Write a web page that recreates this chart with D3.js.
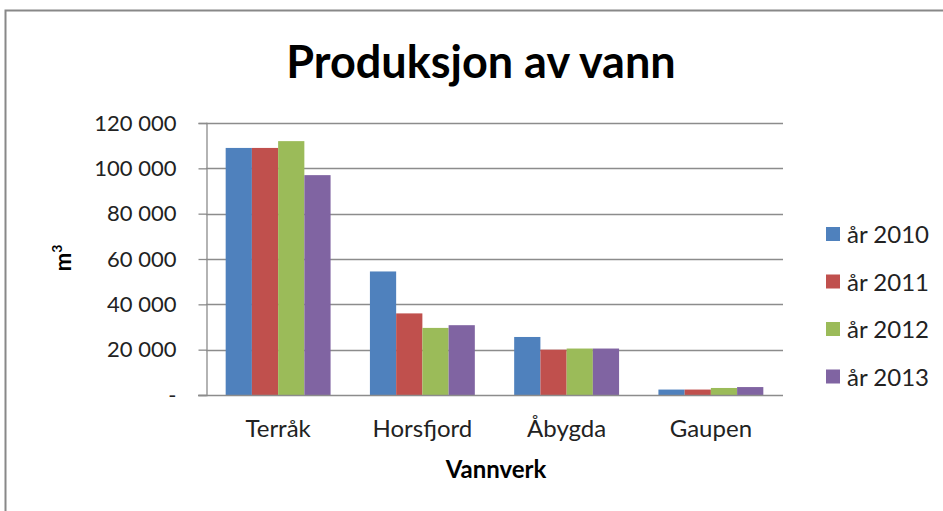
<!DOCTYPE html>
<html>
<head>
<meta charset="utf-8">
<script src="https://cdn.jsdelivr.net/npm/d3@7"></script>
<style>
  body { margin: 0; background: #fff; }
  text { font-family: Lato, "Liberation Sans", sans-serif; fill: #222; }
</style>
</head>
<body>
<script>
//Width and height
var w = 943;
var h = 511;

//Data
var categories = ["Terråk", "Horsfjord", "Åbygda", "Gaupen"];
var seriesNames = ["år 2010", "år 2011", "år 2012", "år 2013"];
var v2010 = [109000, 54500, 25600, 2400];
var v2011 = [109000, 36000, 20000, 2400];
var v2012 = [112000, 29600, 20500, 3100];
var v2013 = [97000, 30800, 20500, 3500];
var yTicks = [0, 20000, 40000, 60000, 80000, 100000, 120000];
var colors = ["#4f81bd", "#c0504d", "#9bbb59", "#8064a2"];

var series = [v2010, v2011, v2012, v2013];

//Plot area
var plotLeft = 206, plotRight = 783, plotTop = 123, plotBottom = 395;

var svg = d3.select("body").append("svg")
    .attr("width", w)
    .attr("height", h);

//Chart frame
svg.append("rect")
    .attr("x", 5.5).attr("y", 10.5)
    .attr("width", 1000).attr("height", 600)
    .attr("fill", "none")
    .attr("stroke", "#888")
    .attr("stroke-width", 2);

var x0 = d3.scaleBand().domain(categories).range([plotLeft, plotRight]);
//Excel gap width 150%: 4 bars + 1.5 bar width gap
var x1 = d3.scaleBand().domain(d3.range(4))
    .range([0, x0.bandwidth() * 4 / 5.5]);
var y = d3.scaleLinear().domain([0, 120000]).range([plotBottom, plotTop]);

var fmt = function(d) {
    return d === 0 ? "-" : d3.format(",")(d).replace(/,/g, " ");
};

//Gridlines
svg.append("g").selectAll("line")
    .data(yTicks.slice(1))
    .enter().append("line")
    .attr("x1", plotLeft).attr("x2", plotRight)
    .attr("y1", function(d) { return Math.round(y(d)) + 0.5; })
    .attr("y2", function(d) { return Math.round(y(d)) + 0.5; })
    .attr("stroke", "#8c8c8c")
    .attr("stroke-width", 1.3);

//Bars
var groups = svg.append("g").selectAll("g")
    .data(categories)
    .enter().append("g")
    .attr("transform", function(d) {
        return "translate(" + (x0(d) + x0.bandwidth() * 0.75 / 5.5) + ",0)";
    });

groups.selectAll("rect")
    .data(function(d, i) { return series.map(function(s, k) { return {k: k, v: s[i]}; }); })
    .enter().append("rect")
    .attr("x", function(d) { return x1(d.k); })
    .attr("width", x1.bandwidth())
    .attr("y", function(d) { return y(d.v); })
    .attr("height", function(d) { return plotBottom - y(d.v); })
    .attr("fill", function(d) { return colors[d.k]; });

//Y axis
var yAxis = d3.axisLeft(y).tickValues(yTicks).tickFormat(fmt).tickSize(8).tickPadding(22);
var gy = svg.append("g")
    .attr("transform", "translate(" + (plotLeft + 0.5) + ",0)")
    .call(yAxis);
gy.select(".domain").attr("stroke", "#8c8c8c").attr("stroke-width", 1.3);
gy.selectAll(".tick line").attr("stroke", "#8c8c8c").attr("stroke-width", 1.3);
gy.selectAll(".tick text")
    .style("font-size", "22px")
    .style("font-family", "Lato, sans-serif")
    .attr("fill", "#222");

//X axis
var xAxis = d3.axisBottom(x0).tickSize(0).tickPadding(24);
var gx = svg.append("g")
    .attr("transform", "translate(0," + (plotBottom + 0.5) + ")")
    .call(xAxis);
gx.select(".domain").attr("stroke", "#8c8c8c").attr("stroke-width", 1.3)
    .attr("d", "M" + (plotLeft - 8) + ",0H" + plotRight);
gx.selectAll(".tick text")
    .style("font-size", "24px")
    .style("font-family", "Lato, sans-serif")
    .attr("fill", "#222");

//Title
svg.append("text")
    .attr("x", 481).attr("y", 78)
    .attr("text-anchor", "middle")
    .style("font-size", "45px")
    .style("font-weight", "bold")
    .style("fill", "#000")
    .text("Produksjon av vann");

//Axis titles
svg.append("text")
    .attr("x", 496).attr("y", 478)
    .attr("text-anchor", "middle")
    .style("font-size", "24px")
    .style("font-weight", "bold")
    .style("fill", "#000")
    .text("Vannverk");

var yt = svg.append("text")
    .attr("transform", "translate(71,258) rotate(-90)")
    .attr("text-anchor", "middle")
    .style("font-size", "22px")
    .style("font-weight", "bold")
    .style("fill", "#000");
yt.append("tspan").text("m");
yt.append("tspan").attr("dy", -9).style("font-size", "14px").text("3");

//Legend
var legend = svg.append("g").selectAll("g")
    .data(seriesNames)
    .enter().append("g")
    .attr("transform", function(d, i) { return "translate(826," + (234 + i * 47.5) + ")"; });
legend.append("rect")
    .attr("x", 0).attr("y", -7)
    .attr("width", 14).attr("height", 14)
    .attr("fill", function(d, i) { return colors[i]; });
legend.append("text")
    .attr("x", 21).attr("y", 9)
    .style("font-size", "24px")
    .text(function(d) { return d; });
</script>
</body>
</html>
